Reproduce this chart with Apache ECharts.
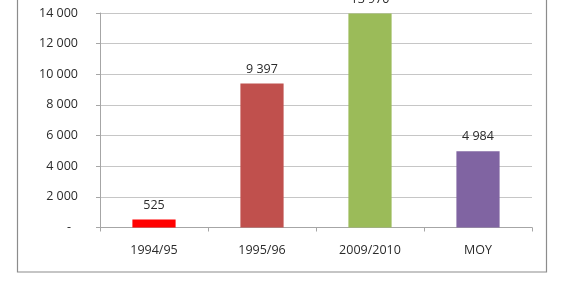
<!DOCTYPE html>
<html>
<head>
<meta charset="utf-8">
<script src="https://cdn.jsdelivr.net/npm/echarts@6/dist/echarts.min.js"></script>
<style>html,body{margin:0;padding:0;background:#fff;}#c{width:564px;height:290px;}</style>
</head>
<body>
<div id="c"></div>
<script>
var categories = ['1994/95', '1995/96', '2009/2010', 'MOY'];
var values = [525, 9397, 13970, 4984];
var colors = ['#FF0000', '#C0504D', '#9BBB59', '#8064A2'];
var yTicks = [0, 2000, 4000, 6000, 8000, 10000, 12000, 14000];

function fmt(v) {
  return String(v).replace(/\B(?=(\d{3})+(?!\d))/g, ' ');
}

var FS = 12.5;
var chart = echarts.init(document.getElementById('c'), null, {renderer: 'canvas'});
chart.setOption({
  animation: false,
  backgroundColor: '#fff',
  textStyle: {fontFamily: 'Open Sans'},
  graphic: [{
    type: 'rect',
    shape: {x: 17.5, y: -10, width: 529, height: 282},
    style: {fill: 'none', stroke: '#8c8c8c', lineWidth: 1.2},
    silent: true
  }],
  grid: {left: 100, right: 32, top: 13, bottom: 62.5},
  xAxis: {
    type: 'category',
    data: categories,
    axisLine: {lineStyle: {color: '#a6a6a6'}},
    axisTick: {show: true, length: 4, lineStyle: {color: '#a6a6a6'}},
    axisLabel: {color: '#2b2b2b', fontSize: FS, margin: 16, fontFamily: 'Open Sans'}
  },
  yAxis: {
    type: 'value',
    min: yTicks[0],
    max: yTicks[yTicks.length - 1],
    interval: 2000,
    axisLine: {show: true, lineStyle: {color: '#a6a6a6'}},
    axisTick: {show: true, length: 4, lineStyle: {color: '#a6a6a6'}},
    splitLine: {lineStyle: {color: '#c6c6c6'}},
    axisLabel: {
      color: '#2b2b2b', fontSize: FS, margin: 22, fontFamily: 'Open Sans',
      formatter: function (v) { return v === 0 ? '{d|-}' : fmt(v); },
      rich: {d: {padding: [0, 7, 0, 0], color: '#2b2b2b', fontSize: FS}}
    }
  },
  series: [{
    type: 'bar',
    barCategoryGap: '60%',
    data: values.map(function (v, i) {
      return {value: v, itemStyle: {color: colors[i]}};
    }),
    label: {
      show: true, position: 'top', distance: 8,
      color: '#2b2b2b', fontSize: FS, fontFamily: 'Open Sans',
      formatter: function (p) { return fmt(p.value); }
    }
  }]
});
</script>
</body>
</html>
